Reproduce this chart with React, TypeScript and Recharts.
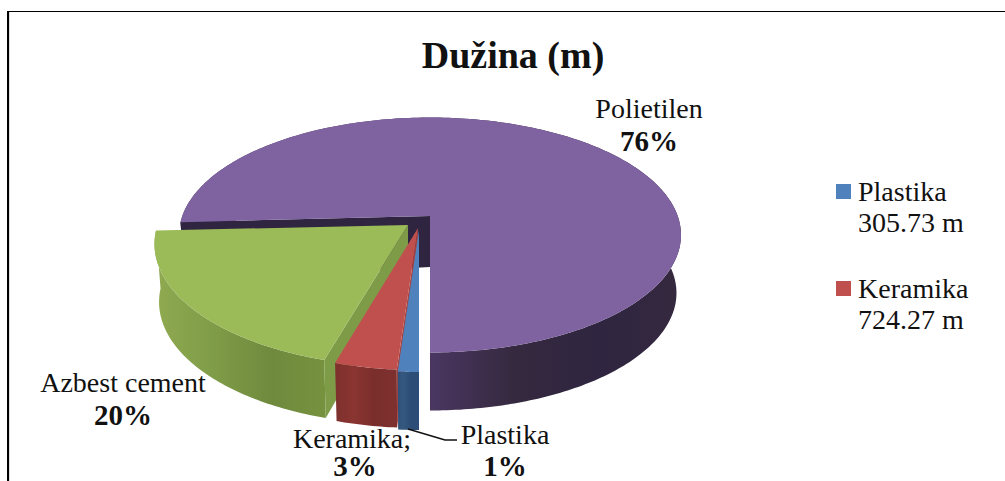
import { PieChart, Pie, Cell, Legend } from 'recharts';

const sliceNames = ['Polietilen', 'Azbest cement', 'Keramika', 'Plastika'];
const percents = [76, 20, 3, 1];
const legendNames = ['Plastika', 'Keramika'];
const legendMetres = ['305.73 m', '724.27 m'];

const topColors = ['#7F62A0', '#9BBB59', '#C0504D', '#4F81BD'];
const radialColors = ['#2F2540', '#7E9B48', '#A5423F', '#4F81BD'];
const sideStops = [
  ['#4A3660', '#35293F', '#2F2540', '#35293F'],
  ['#8FAA50', '#7F9C48', '#6F8A3D', '#77933F'],
  ['#7D302D', '#8A3532', '#7A2E2B', '#7D302D'],
  ['#2C4D75', '#34587F', '#2C4D75', '#2C4D75'],
];
const legendColors = ['#4F81BD', '#C0504D'];

const FONT = '"Liberation Serif", serif';
const TEXT = '#111';

// hand placed, same as the exploded slices in the original
const explode = [
  { dx: 0, dy: 0, rx: 1, ry: 117.5 },
  { dx: -22, dy: 9, rx: 1.01, ry: 123 },
  { dx: -12, dy: 12, rx: 1, ry: 123 },
  { dx: -11, dy: 14, rx: 1, ry: 123 },
];
const gradX = [[432, 681], [155, 330], [334, 393], [395, 419]];
const labelPos = [
  { x: 649, y1: 118, x2: 649, y2: 151 },
  { x: 123, y1: 392, x2: 123, y2: 425 },
  { x: 352, y1: 448, x2: 355, y2: 476 },
  { x: 505, y1: 444, x2: 505, y2: 476 },
];
const DEPTH = 58;
const APEX_DROP = 19; // apex sits above the ellipse centre (perspective)
const BOTTOM_SCALE = 0.982; // lower rim is a bit narrower than the top one

// perspective: near slices look wider than their share
function warp(angle: number) {
  const t = 270 - angle;
  const r = (t * Math.PI) / 180;
  return 270 - (t + 9.2 * Math.sin(r) + 5.4 * Math.sin(2 * r));
}

function Slice(props: any) {
  const { cx, cy, outerRadius, startAngle, endAngle, index } = props;
  const e = explode[index];
  const ex = cx + e.dx;
  const ey = cy + e.dy;
  const a0 = warp(Math.min(startAngle, endAngle));
  const a1 = warp(Math.max(startAngle, endAngle));
  const pts: [number, number][] = [];
  const rim: [number, number][] = [];
  const steps = Math.max(4, Math.ceil(Math.abs(a1 - a0)));
  for (let i = 0; i <= steps; i++) {
    const a = ((a0 + ((a1 - a0) * i) / steps) * Math.PI) / 180;
    const rx = outerRadius * e.rx;
    pts.push([ex + rx * Math.cos(a), ey - e.ry * Math.sin(a)]);
    rim.push([ex + rx * BOTTOM_SCALE * Math.cos(a), ey + DEPTH - e.ry * Math.sin(a)]);
  }
  const apex: [number, number] = [ex, ey - APEX_DROP];
  const str = (p: [number, number][]) => p.map((q) => q.join(',')).join(' L');
  const down = (p: [number, number], d: number): [number, number] => [p[0], p[1] + d];
  const id = `side-${index}`;
  // the cut at the larger angle is the one facing the viewer
  const cutEnd = pts[pts.length - 1];
  const cutFace: [number, number][] = [apex, cutEnd, rim[rim.length - 1], down(apex, DEPTH - 7)];
  return (
    <g>
      <defs>
        <linearGradient id={id} gradientUnits="userSpaceOnUse" x1={gradX[index][0]} x2={gradX[index][1]} y1={0} y2={0}>
          {sideStops[index].map((c, i) => (
            <stop key={i} offset={i / (sideStops[index].length - 1)} stopColor={c} />
          ))}
        </linearGradient>
      </defs>
      <path d={`M${str(pts)} L${str([...rim].reverse())} Z`} fill={`url(#${id})`} />
      <path d={`M${str(cutFace)} Z`} fill={radialColors[index]} />
      <path d={`M${apex.join(',')} L${str(pts)} Z`} fill={topColors[index]} />
    </g>
  );
}

function SliceLabel(props: any) {
  const { index } = props;
  const p = labelPos[index];
  const name = sliceNames[index] + (sliceNames[index] === 'Keramika' ? ';' : '');
  return (
    <g fontFamily={FONT} fill={TEXT} textAnchor="middle">
      {sliceNames[index] === 'Plastika' && (
        <polyline points="408,429 445,440 457,440" fill="none" stroke="#111" strokeWidth={1.5} />
      )}
      <text x={p.x} y={p.y1} fontSize={28}>{name}</text>
      <text x={p.x2} y={p.y2} fontSize={29} fontWeight="bold">{percents[index]}%</text>
    </g>
  );
}

function LegendBox() {
  return (
    <div style={{ fontFamily: FONT, color: TEXT, fontSize: 28, lineHeight: '31px' }}>
      {legendNames.map((name, i) => (
        <div key={name} style={{ position: 'relative', paddingLeft: 22, marginBottom: 35, whiteSpace: 'nowrap' }}>
          <span style={{ position: 'absolute', left: 0, top: 8, width: 15, height: 15, background: legendColors[i] }} />
          <div>{name}</div>
          <div>{legendMetres[i]}</div>
        </div>
      ))}
    </div>
  );
}

const rows = sliceNames.map((name, i) => ({ name, value: percents[i] }));

export default function App() {
  return (
    <div style={{ position: 'absolute', left: 0, top: 0, width: 1005, height: 481, overflow: 'hidden', background: '#fff' }}>
      <div
        style={{
          position: 'absolute',
          left: 7,
          top: 11,
          width: 998,
          height: 470,
          borderLeft: '2px solid #000',
          borderTop: '1px solid #000',
          boxShadow: 'inset 1px 0 0 #ddd',
        }}
      />
      <div style={{ position: 'absolute', left: 0, top: 0 }}>
        <PieChart width={1005} height={481} margin={{ top: 0, right: 0, bottom: 0, left: 0 }}>
          <text x={513} y={68} textAnchor="middle" fontFamily={FONT} fontWeight="bold" fontSize={38} fill={TEXT}>
            Dužina (m)
          </text>
          <Pie
            data={rows}
            dataKey="value"
            nameKey="name"
            cx={430}
            cy={235}
            outerRadius={251}
            startAngle={-90}
            endAngle={270}
            paddingAngle={0}
            stroke="none"
            shape={Slice}
            label={SliceLabel}
            labelLine={false}
            isAnimationActive={false}
          >
            {rows.map((r, i) => (
              <Cell key={r.name} fill={topColors[i]} />
            ))}
          </Pie>
          <Legend content={<LegendBox />} wrapperStyle={{ position: 'absolute', left: 836, top: 176, width: 165, bottom: 'auto' }} />
        </PieChart>
      </div>
    </div>
  );
}
